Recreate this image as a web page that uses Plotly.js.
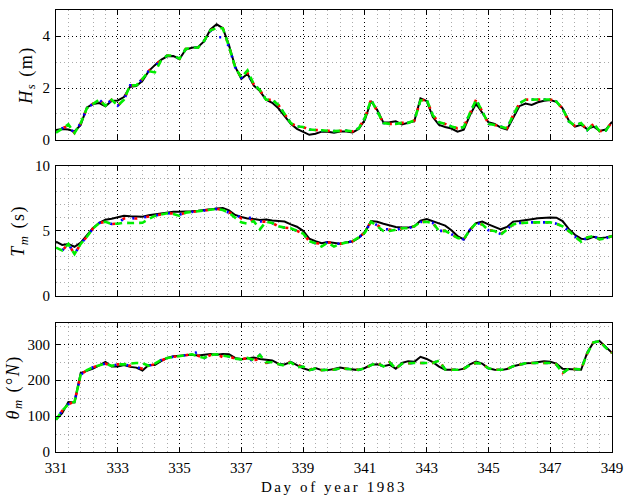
<!DOCTYPE html>
<html><head><meta charset="utf-8">
<script src="https://cdn.plot.ly/plotly-3.0.1.min.js"></script>
<style>html,body{margin:0;padding:0;background:#fff}#chart{width:625px;height:502px}
.x3title{letter-spacing:2.6px}
.ytitle,.y2title,.y3title{letter-spacing:1.5px}
</style>
</head><body><div id="chart"></div>
<script>
const days = [331,331.2,331.4,331.6,331.8,332,332.2,332.4,332.6,332.8,333,333.2,333.4,333.6,333.8,334,334.2,334.4,334.6,334.8,335,335.2,335.4,335.6,335.8,336,336.2,336.4,336.6,336.8,337,337.2,337.4,337.6,337.8,338,338.2,338.4,338.6,338.8,339,339.2,339.4,339.6,339.8,340,340.2,340.4,340.6,340.8,341,341.2,341.4,341.6,341.8,342,342.2,342.4,342.6,342.8,343,343.2,343.4,343.6,343.8,344,344.2,344.4,344.6,344.8,345,345.2,345.4,345.6,345.8,346,346.2,346.4,346.6,346.8,347,347.2,347.4,347.6,347.8,348,348.2,348.4,348.6,348.8,349];
const dayTicks = [331,333,335,337,339,341,343,345,347,349];

const hsBlack = [0.38,0.42,0.40,0.33,0.58, 1.25,1.38,1.42,1.30,1.50, 1.52,1.65,2.05,2.08,2.28, 2.65,2.88,3.08,3.22,3.23, 3.12,3.48,3.55,3.58,3.80, 4.25,4.45,4.30,3.65,2.82, 2.35,2.55,2.10,1.88,1.55, 1.43,1.22,0.92,0.62,0.43, 0.32,0.20,0.24,0.32,0.32, 0.28,0.33,0.33,0.29,0.42, 0.78,1.50,1.15,0.67,0.68, 0.72,0.60,0.66,0.72,1.60, 1.50,0.88,0.58,0.50,0.44, 0.32,0.40,0.95,1.40,1.05, 0.68,0.62,0.48,0.40,0.88, 1.30,1.40,1.35,1.45,1.51, 1.54,1.47,1.22,0.75,0.51, 0.58,0.42,0.52,0.35,0.40, 0.70];
const hsBlue = [0.28,0.45,0.52,0.27,0.65, 1.22,1.40,1.55,1.32,1.55, 1.32,1.55,2.10,2.10,2.35, 2.65,2.85,3.05,3.25,3.25, 3.12,3.50,3.56,3.55,3.82, 4.20,3.95,3.95,3.60,2.80, 2.40,2.55,2.15,1.92,1.55, 1.55,1.35,1.00,0.65,0.52, 0.50,0.40,0.38,0.36,0.35, 0.34,0.35,0.36,0.33,0.45, 0.85,1.55,1.10,0.65,0.62, 0.64,0.66,0.66,0.75,1.52, 1.55,0.95,0.68,0.62,0.52, 0.45,0.50,1.05,1.55,1.10, 0.62,0.58,0.50,0.45,0.95, 1.40,1.55,1.56,1.56,1.56, 1.56,1.48,1.20,0.72,0.55, 0.65,0.38,0.62,0.34,0.36, 0.70];
const hsRed = [0.28,0.45,0.55,0.27,0.65, 1.22,1.40,1.55,1.32,1.55, 1.32,1.55,2.10,2.10,2.35, 2.65,2.88,3.05,3.25,3.25, 3.12,3.50,3.56,3.55,3.82, 4.22,4.32,4.30,3.60,2.80, 2.40,2.58,2.15,1.92,1.55, 1.55,1.35,1.00,0.65,0.52, 0.50,0.40,0.38,0.36,0.35, 0.34,0.35,0.36,0.33,0.45, 0.85,1.55,1.10,0.65,0.62, 0.62,0.66,0.66,0.75,1.52, 1.55,0.95,0.68,0.62,0.52, 0.45,0.50,1.05,1.55,1.10, 0.62,0.58,0.50,0.45,0.95, 1.40,1.55,1.56,1.56,1.56, 1.56,1.48,1.20,0.72,0.55, 0.65,0.38,0.62,0.34,0.36, 0.70];
const hsGreen = [0.28,0.45,0.60,0.27,0.65, 1.22,1.40,1.55,1.32,1.55, 1.32,1.55,2.10,2.10,2.35, 2.65,2.60,3.05,3.25,3.25, 3.12,3.50,3.56,3.55,3.82, 4.22,4.30,4.30,3.60,2.80, 2.40,2.68,2.15,1.92,1.55, 1.55,1.35,1.00,0.65,0.52, 0.50,0.40,0.38,0.36,0.35, 0.34,0.35,0.36,0.33,0.45, 0.85,1.55,1.10,0.65,0.62, 0.62,0.66,0.66,0.75,1.52, 1.55,0.95,0.68,0.62,0.52, 0.45,0.50,1.05,1.55,1.10, 0.62,0.58,0.50,0.45,0.95, 1.40,1.55,1.56,1.56,1.56, 1.56,1.48,1.20,0.72,0.55, 0.65,0.38,0.62,0.34,0.36, 0.70];

const tmBlack = [4.17,3.92,3.99,3.78,4.10, 4.70,5.22,5.62,5.85,5.93, 6.05,6.16,6.12,6.08,6.08, 6.20,6.27,6.37,6.43,6.47, 6.47,6.47,6.50,6.54,6.58, 6.65,6.72,6.76,6.58,6.22, 6.06,5.95,5.91,5.83,5.88, 5.79,5.76,5.72,5.50,5.32, 5.00,4.40,4.20,4.06,4.15, 4.10,4.02,4.12,4.18,4.45, 4.93,5.75,5.70,5.55,5.40, 5.30,5.26,5.25,5.35,5.78, 5.90,5.72,5.52,5.40,5.05, 4.60,4.35,5.07,5.60,5.72, 5.50,5.32,5.12,5.30,5.71, 5.75,5.80,5.89,5.96,6.01, 6.02,6.01,5.75,5.15,4.70, 4.40,4.35,4.55,4.43,4.50, 4.60];
const tmBlue = [3.71,3.50,4.00,3.22,4.00, 4.55,5.20,5.60,5.70,5.53, 5.55,5.95,5.97,5.95,6.02, 6.08,6.15,6.25,6.35,6.33, 6.25,6.40,6.45,6.50,6.58, 6.62,6.68,6.60,6.40,6.30, 5.95,6.00,6.00,5.72,5.70, 5.60,5.35,5.25,5.20,5.00, 4.80,4.20,4.05,4.02,4.12, 4.05,4.00,4.10,4.20,4.50, 4.86,5.71,5.40,5.15,5.10, 5.07,5.20,5.20,5.35,5.68, 5.70,5.60,5.00,5.00,4.75, 4.45,4.35,5.07,5.60,5.50, 5.05,4.99,4.75,5.10,5.50, 5.60,5.65,5.65,5.65,5.65, 5.65,5.55,5.35,4.99,4.60, 4.17,4.50,4.60,4.35,4.43, 4.60];
const tmRed = [3.71,3.50,4.00,3.22,4.00, 4.55,5.20,5.60,5.70,5.53, 5.55,5.95,5.95,5.95,6.02, 6.08,6.15,6.25,6.35,6.33, 6.25,6.40,6.45,6.50,6.58, 6.62,6.68,6.60,6.40,6.30, 5.95,5.95,5.75,5.72,5.70, 5.60,5.35,5.25,5.20,5.00, 4.80,4.20,4.05,4.02,4.12, 4.05,4.00,4.10,4.20,4.50, 4.86,5.71,5.40,5.15,5.10, 5.07,5.20,5.20,5.35,5.68, 5.70,5.60,5.00,5.00,4.75, 4.45,4.35,5.07,5.60,5.50, 5.05,4.99,4.75,5.10,5.50, 5.60,5.65,5.65,5.65,5.65, 5.65,5.55,5.35,4.99,4.60, 4.17,4.50,4.60,4.35,4.43, 4.60];
const tmGreen = [3.71,3.50,4.00,3.22,4.00, 4.55,5.20,5.60,5.70,5.53, 5.55,5.62,5.60,5.60,5.62, 5.90,6.15,6.25,6.35,6.30, 6.15,6.40,6.45,6.50,6.58, 6.62,6.68,6.60,6.40,6.00, 5.65,5.55,5.75,5.12,5.70, 5.60,5.35,5.25,5.20,5.00, 4.80,4.20,4.05,3.80,4.10, 3.80,4.00,4.10,4.20,4.50, 4.86,5.71,5.37,4.99,4.99, 5.07,5.20,5.20,5.35,5.68, 5.70,5.60,5.00,5.00,4.75, 4.45,4.35,5.07,5.60,5.50, 5.05,4.99,4.70,5.10,5.50, 5.60,5.65,5.65,5.65,5.65, 5.65,5.55,5.35,4.99,4.60, 4.17,4.50,4.60,4.35,4.43, 4.60];

const thBlack = [90,108,139,138,220, 225,232,241,251,238, 238,242,237,235,227, 242,242,253,262,267, 268,271,271,269,271, 273,271,273,272,262, 258,260,263,259,256, 255,246,244,251,241, 233,228,234,228,228, 231,235,232,229,228, 234,243,244,239,243, 232,248,253,251,265, 259,250,238,229,229, 228,232,244,252,246, 233,229,228,231,239, 243,247,248,251,253, 251,246,232,231,232, 229,277,305,309,291, 276];
const thBlue = [90,115,133,140,215, 228,236,242,246,240, 244,244,240,236,232, 240,246,256,262,265, 268,270,272,279,262, 270,272,268,266,260, 258,262,252,270,250, 250,245,240,250,236, 238,228,232,228,229, 229,233,232,230,229, 233,242,248,238,250, 232,246,248,248,248, 248,248,254,230,229, 229,232,242,248,245, 233,229,229,231,239, 244,247,248,248,248, 248,244,220,232,232, 230,275,305,309,290, 276];
const thRed = [90,115,133,140,215, 228,236,242,246,240, 244,244,240,238,232, 238,246,256,262,265, 268,270,272,268,262, 270,272,264,266,260, 258,262,256,258,248, 250,245,240,252,244, 238,228,236,228,229, 229,233,232,230,229, 233,242,248,238,250, 232,246,248,248,248, 248,248,254,230,229, 229,232,242,248,245, 233,229,229,231,239, 244,247,248,248,248, 248,244,220,232,232, 230,275,305,309,290, 276];
const thGreen = [90,115,133,140,215, 228,236,242,246,240, 244,244,246,248,247, 240,246,256,262,265, 268,270,272,266,262, 270,272,268,266,260, 258,262,256,270,250, 250,245,240,250,236, 238,228,232,228,229, 229,233,232,230,229, 233,242,248,238,250, 232,246,248,248,248, 248,248,254,230,229, 229,232,242,248,245, 233,229,229,231,239, 244,247,248,248,248, 248,244,220,232,232, 230,275,305,309,290, 276];

const panels = [
  {xa:'x', ya:'y', black:hsBlack, blue:hsBlue, red:hsRed, green:hsGreen},
  {xa:'x2', ya:'y2', black:tmBlack, blue:tmBlue, red:tmRed, green:tmGreen},
  {xa:'x3', ya:'y3', black:thBlack, blue:thBlue, red:thRed, green:thGreen}
];

const traces = [];
panels.forEach(p => {
  traces.push({x:days, y:p.black, xaxis:p.xa, yaxis:p.ya, mode:'lines', line:{color:'#000', width:2}, hoverinfo:'skip'});
  traces.push({x:days, y:p.red, xaxis:p.xa, yaxis:p.ya, mode:'lines', line:{color:'#ff0000', width:2.6, dash:'0px,9px,3px,0px'}, hoverinfo:'skip'});
  traces.push({x:days, y:p.blue, xaxis:p.xa, yaxis:p.ya, mode:'lines', line:{color:'#0000ff', width:2.6, dash:'0px,7px,2px,3px'}, hoverinfo:'skip'});
  traces.push({x:days, y:p.green, xaxis:p.xa, yaxis:p.ya, mode:'lines', line:{color:'#00ee00', width:2.6, dash:'7px,5px'}, hoverinfo:'skip'});
});

const FONT = 'Liberation Serif, Times New Roman, serif';
function ax(extra) {
  return Object.assign({
    showline:true, linecolor:'#000', linewidth:1, mirror:'ticks',
    ticks:'inside', ticklen:5, tickcolor:'#000', tickwidth:1,
    showgrid:true, gridcolor:'#000', gridwidth:1, griddash:'1px,3px',
    zeroline:false, tickfont:{family:FONT, size:15, color:'#000'}, fixedrange:true
  }, extra);
}
const minorGrid = (d) => ({dtick:d, showgrid:true, gridcolor:'#aaaaaa', gridwidth:1, griddash:'1px,3px', ticks:''});
const xBase = {range:[331,349], tickmode:'array', tickvals:dayTicks, ticktext:dayTicks.map(String), minor:Object.assign({tick0:331}, minorGrid(0.4))};
const yTitleFont = {family:FONT, size:18, color:'#000'};

const layout = {
  width:625, height:502,
  margin:{l:56, r:13, t:10, b:50},
  paper_bgcolor:'#fff', plot_bgcolor:'#fff',
  showlegend:false,
  font:{family:FONT, color:'#000'},
  xaxis: ax(Object.assign({}, xBase, {anchor:'y', showticklabels:false})),
  xaxis2: ax(Object.assign({}, xBase, {anchor:'y2', showticklabels:false})),
  xaxis3: ax(Object.assign({}, xBase, {anchor:'y3', ticklabelstandoff:2, title:{text:'Day of year 1983', font:{family:FONT, size:15, color:'#000'}, standoff:6}})),
  yaxis: ax({domain:[0.7059,1], range:[0,5], tickmode:'array', tickvals:[0,2,4], ticklabelstandoff:2, minor:Object.assign({tick0:0}, minorGrid(1)),
    title:{text:'<i>H</i><sub><i>s</i></sub> (m)', font:yTitleFont, standoff:5}}),
  yaxis2: ax({domain:[0.3529,0.6477], range:[0,10], tickmode:'array', tickvals:[0,5,10], ticklabelstandoff:2, minor:Object.assign({tick0:0}, minorGrid(1)),
    title:{text:'<i>T</i><sub><i>m</i></sub> (s)', font:yTitleFont, standoff:5}}),
  yaxis3: ax({domain:[0,0.2925], range:[0,360], tickmode:'array', tickvals:[0,100,200,300], ticklabelstandoff:2, minor:Object.assign({tick0:0}, minorGrid(50)),
    title:{text:'<i>θ</i><sub><i>m</i></sub> (°<i>N</i>)', font:yTitleFont, standoff:3}})
};

Plotly.newPlot('chart', traces, layout, {displayModeBar:false, staticPlot:true});
</script>
</body></html>
